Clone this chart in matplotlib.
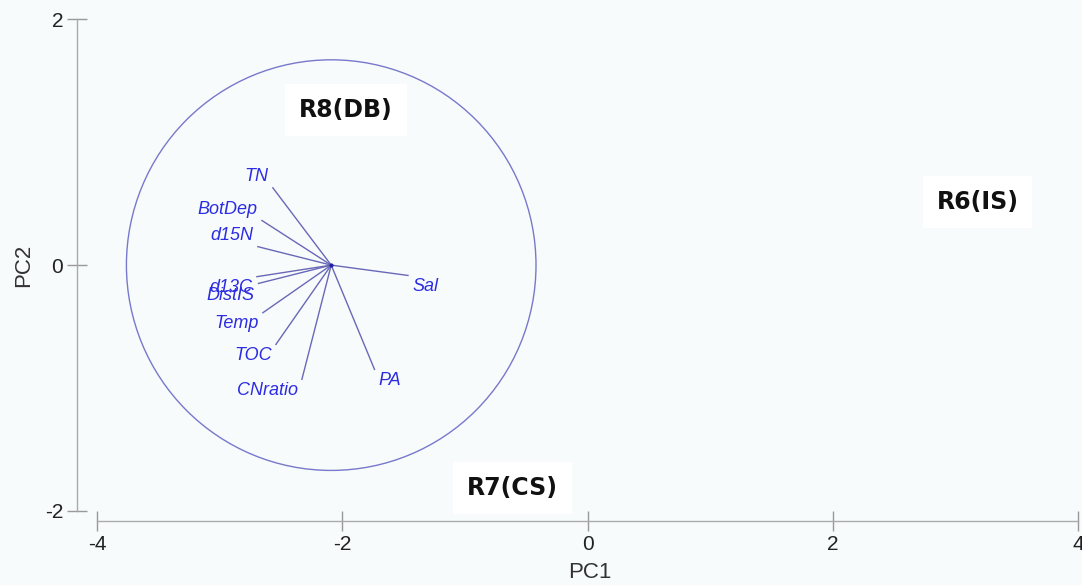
import numpy as np
import matplotlib.pyplot as plt

plt.rcParams['axes.unicode_minus'] = False

# loadings of the environmental variables on PC1 / PC2
variables = ['TN', 'BotDep', 'd15N', 'd13C', 'DistIS', 'Temp', 'TOC', 'CNratio', 'PA', 'Sal']
pc1_load = [-0.476, -0.565, -0.598, -0.606, -0.593, -0.557, -0.451, -0.239, 0.353, 0.626]
pc2_load = [0.629, 0.363, 0.150, -0.094, -0.149, -0.387, -0.645, -0.929, -0.848, -0.084]

# origin of the vectors and radius of the correlation circle
origin = (-2.09, 0.0)
circle_r = 1.67

# sample group labels
groups = ['R8(DB)', 'R7(CS)', 'R6(IS)']
group_x = [-1.97, -0.615, 3.18]
group_y = [1.26, -1.81, 0.51]

bg = '#f8fbfb'
line_col = '#6868b8'
text_col = '#2c2ce2'

fig = plt.figure(figsize=(10.82, 5.85), dpi=100, facecolor=bg)
ax = fig.add_axes([77 / 1082, 1 - 520.7 / 585, 1002 / 1082, 501.7 / 585])
ax.set_facecolor(bg)
ax.set_xlim(-4.163, 4.008)
ax.set_ylim(-2.079, 2.002)

circ = plt.Circle(origin, circle_r, fill=False, color='#7878cc', lw=1)
ax.add_patch(circ)

for name, dx, dy in zip(variables, pc1_load, pc2_load):
    ex, ey = origin[0] + dx, origin[1] + dy
    ax.plot([origin[0], ex], [origin[1], ey], color=line_col, lw=1)
    ox = -3 if dx < 0 else 3
    oy = 8 if dy > 0 else -8
    if name == 'DistIS':
        oy = -9
    ax.annotate(name, (ex, ey), xytext=(ox, oy), textcoords='offset points',
                ha='right' if dx < 0 else 'left', va='center',
                color=text_col, fontsize=13, style='italic',
                family='Liberation Sans')
ax.plot(*origin, 'o', ms=2, color='#2020a0')

for g, gx, gy in zip(groups, group_x, group_y):
    ax.text(gx, gy, g, ha='center', va='center', fontsize=17,
            fontweight='bold', family='DejaVu Sans', color='#111111',
            bbox=dict(facecolor='white', edgecolor='none', pad=10))

for s in ['top', 'right']:
    ax.spines[s].set_visible(False)
for s in ['left', 'bottom']:
    ax.spines[s].set_color('#aaaaaa')
    ax.spines[s].set_linewidth(1)
ax.spines['left'].set_bounds(-2, 2)
ax.spines['bottom'].set_bounds(-4, 4)

ax.set_xticks([-4, -2, 0, 2, 4])
ax.set_yticks([-2, 0, 2])
ax.tick_params(direction='inout', length=14, width=1, color='#999999',
               labelsize=15, labelcolor='#222222', pad=3)
for lab in ax.get_xticklabels() + ax.get_yticklabels():
    lab.set_family('Liberation Sans')

fig.text(590 / 1082, 1 - 573 / 585, 'PC1', ha='center', va='center',
         fontsize=16, color='#333333', family='Liberation Sans')
fig.text(24 / 1082, 1 - 265 / 585, 'PC2', ha='center', va='center',
         rotation=90, fontsize=16, color='#333333', family='Liberation Sans')

fig.savefig('out.png', dpi=100, facecolor=bg)
